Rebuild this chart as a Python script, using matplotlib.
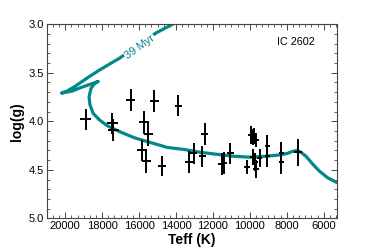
import matplotlib
matplotlib.use("Agg")
import matplotlib.pyplot as plt
from matplotlib.ticker import MultipleLocator, FormatStrFormatter

plt.rcParams['font.family'] = ['Liberation Sans', 'DejaVu Sans']

# Observed stars
teff = [18900, 17450, 17400, 16450, 15170, 13880, 15740, 15490, 15840, 15610, 14750,
        13290, 13050, 12570, 12430, 11530, 11400, 11050, 10150, 9950, 9850, 9760, 9640,
        9850, 9720, 9660, 9470, 9050, 9050, 8290, 8290, 7390]
logg = [3.98, 4.02, 4.09, 3.78, 3.79, 3.84, 4.01, 4.13, 4.30, 4.41, 4.46,
        4.42, 4.33, 4.36, 4.13, 4.44, 4.43, 4.33, 4.47, 4.14, 4.16, 4.15, 4.19,
        4.37, 4.42, 4.49, 4.38, 4.25, 4.36, 4.33, 4.42, 4.32]
teff_err = [320, 300, 300, 250, 230, 200, 260, 250, 260, 250, 230,
            210, 200, 200, 190, 180, 180, 180, 160, 150, 150, 150, 150,
            150, 150, 150, 150, 150, 150, 150, 150, 200]
logg_err = [0.11, 0.11, 0.11, 0.11, 0.11, 0.11, 0.12, 0.12, 0.11, 0.12, 0.10,
            0.11, 0.11, 0.11, 0.11, 0.11, 0.11, 0.11, 0.07, 0.09, 0.08, 0.08, 0.07,
            0.08, 0.09, 0.09, 0.09, 0.11, 0.11, 0.12, 0.12, 0.14]

# 39 Myr isochrone
iso_teff = [5300, 5800, 6250, 6600, 6960, 7230, 7440, 7680, 7950, 8300, 9100, 10000,
            10890, 11790, 12680, 13570, 14460, 15360, 16250, 17140, 17680, 18125, 18480,
            18660, 18710, 18600, 18400, 18210, 18660, 19110, 19640, 20200, 19910, 19460,
            18930, 18210, 17500, 17050, 16150, 15075, 14178, 13500]
iso_logg = [4.63, 4.58, 4.51, 4.44, 4.36, 4.32, 4.30, 4.31, 4.33, 4.345, 4.36, 4.37,
            4.36, 4.34, 4.32, 4.29, 4.27, 4.22, 4.17, 4.10, 4.05, 3.99, 3.92,
            3.83, 3.75, 3.66, 3.61, 3.59, 3.62, 3.65, 3.69, 3.71, 3.69, 3.64,
            3.57, 3.48, 3.40, 3.35, 3.23, 3.09, 3.00, 2.92]

teal = '#00888a'

fig = plt.figure(figsize=(3.74, 2.49), dpi=100)
ax = fig.add_axes([0.125, 0.123, 0.775, 0.78])

ax.plot(iso_teff, iso_logg, color=teal, lw=2.3, solid_capstyle='round',
        solid_joinstyle='round', zorder=2)
ax.text(15950, 3.235, '39 Myr', color=teal, fontsize=8, rotation=36,
        ha='center', va='center', zorder=3,
        bbox=dict(facecolor='white', edgecolor='none', pad=0.6))

ax.errorbar(teff, logg, xerr=teff_err, yerr=logg_err, fmt='none', ecolor='black',
            elinewidth=1.4, capsize=0, zorder=4)

ax.text(0.86, 0.91, 'IC 2602', transform=ax.transAxes, fontsize=7.8,
        ha='center', va='center')

ax.set_xlim(21000, 5300)
ax.set_ylim(5.0, 3.0)
ax.xaxis.set_major_locator(MultipleLocator(2000))
ax.xaxis.set_minor_locator(MultipleLocator(2000 / 6))
ax.yaxis.set_major_locator(MultipleLocator(0.5))
ax.yaxis.set_minor_locator(MultipleLocator(0.1))
ax.tick_params(which='both', direction='in', top=True, right=True, labelsize=8,
               color='#444444', pad=2)
ax.tick_params(which='major', length=4, width=0.7)
ax.tick_params(which='minor', length=2, width=0.6)
for s in ax.spines.values():
    s.set_color('#444444')
    s.set_linewidth(0.8)
ax.yaxis.set_major_formatter(FormatStrFormatter('%.1f'))

ax.set_xlabel('Teff (K)', fontsize=10, fontweight='bold', labelpad=1)
ax.set_ylabel('log(g)', fontsize=10, fontweight='bold', labelpad=3)

fig.savefig('out.png', dpi=100)
